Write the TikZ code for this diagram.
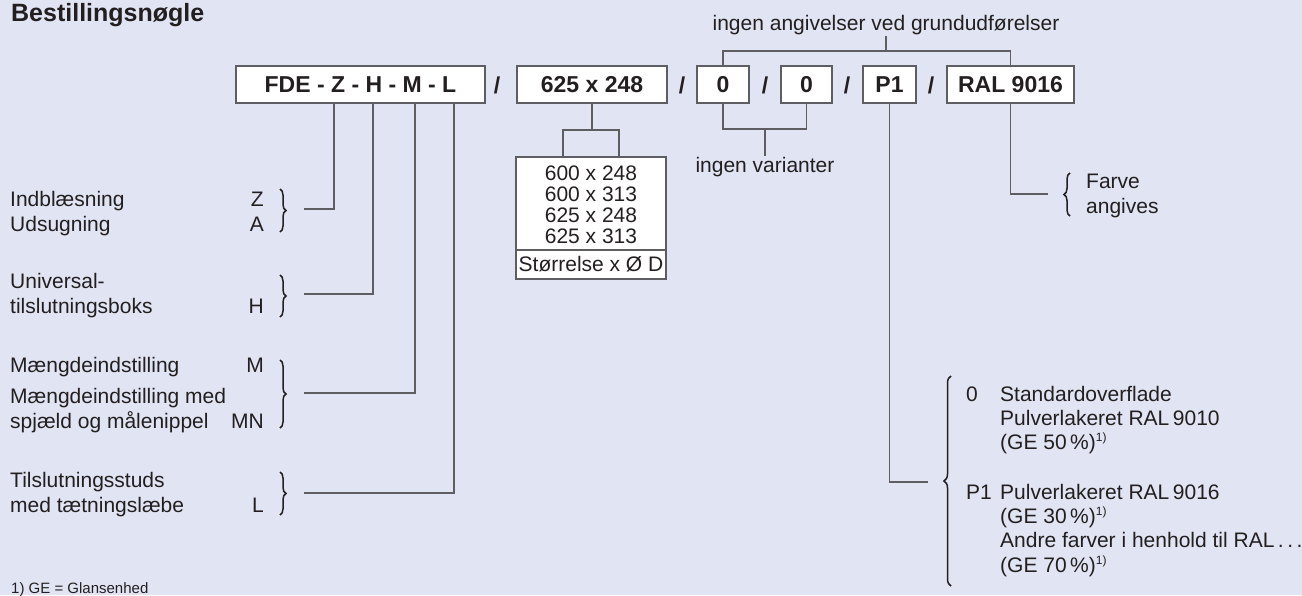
\documentclass[tikz,border=0pt]{standalone}
\usepackage{fontspec}
\setmainfont{Liberation Sans}
\usetikzlibrary{decorations.pathreplacing}
\definecolor{bg}{HTML}{E1E4F2}
\definecolor{txt}{HTML}{231F20}
\definecolor{ln}{HTML}{5E5E62}
\newcommand\fnm{\raisebox{0.36em}{\fontsize{12}{12}\selectfont 1)}}
\begin{document}
\begin{tikzpicture}[x=1pt,y=-1pt,
  every node/.style={text=txt, inner sep=1pt},
  reg/.style={font=\fontsize{21}{25}\selectfont},
  lft/.style={reg, anchor=base west},
  rgt/.style={reg, anchor=base east},
  boxed/.style={draw=ln, line width=1.1pt, fill=white, minimum height=37pt, inner sep=0pt, font=\fontsize{23}{23}\selectfont\bfseries},
  plainbox/.style={draw=ln, line width=1.1pt, fill=white, minimum width=150pt, inner sep=0pt},
  slash/.style={font=\fontsize{23}{23}\selectfont\bfseries, anchor=base},
  conn/.style={draw=ln, line width=1.2pt},
  brc/.style={draw=txt, line width=1.5pt, decorate, decoration={brace, amplitude=6pt}},
  ]
\fill[bg] (0,0) rectangle (1302,595);
\useasboundingbox (0,0) rectangle (1302,595);

% title
\node[anchor=base west, font=\fontsize{25}{25}\selectfont\bfseries] (title) at (10,21) {Bestillingsnøgle};

% code boxes
\node[boxed, minimum width=249pt] (fde) at (360.5,84.5) {FDE - Z - H - M - L};
\node[slash] (sl1) at (497,93) {/};
\node[boxed, minimum width=150pt] (size) at (592,84.5) {625 x 248};
\node[slash] (sl2) at (682,93) {/};
\node[boxed, minimum width=52pt] (zeroa) at (723,84.5) {0};
\node[slash] (sl3) at (765,93) {/};
\node[boxed, minimum width=51pt] (zerob) at (806.5,84.5) {0};
\node[slash] (sl4) at (847,93) {/};
\node[boxed, minimum width=53pt] (p1) at (889.5,84.5) {P1};
\node[slash] (sl5) at (931,93) {/};
\node[boxed, minimum width=127pt] (ral) at (1010.5,84.5) {RAL 9016};

% top note
\node[reg, anchor=base] (topnote) at (886,30) {ingen angivelser ved grundudførelser};
\coordinate (topjoin) at (886,51);
\draw[conn] (topnote.south) -- (topjoin);
\draw[conn] (zeroa.north) |- (topjoin) -| (ral.north);

% zero bracket
\coordinate (zzjoin) at (765,129);
\draw[conn] (zeroa.south) |- (zzjoin) -| (zerob.south);
\node[reg, anchor=base] (varianter) at (765,172) {ingen varianter};
\draw[conn] (zzjoin) -- (varianter.north);

% sizes
\node[plainbox, minimum height=93pt] (sizes) at (591,203.5) {};
\node[plainbox, minimum height=29pt, reg] (sizelbl) at (591,264.5) {Størrelse x Ø D};
\foreach \t [count=\i] in {600 x 248, 600 x 313, 625 x 248, 625 x 313}
  \node[reg, anchor=base] (s\i) at (591,159+21*\i) {\t};
\coordinate (sjoin) at (592,130);
\coordinate (sl) at (563,0);
\coordinate (sr) at (619,0);
\draw[conn] (size.south) -- (sjoin);
\draw[conn] (sl |- sizes.north) |- (sjoin) -| (sr |- sizes.north);

% left labels
\node[lft] (indb) at (9,206) {Indblæsning};
\node[lft] (udsu) at (9,231) {Udsugning};
\node[rgt] (cz) at (265,206) {Z};
\node[rgt] (ca) at (265,231) {A};
\draw[brc] (280,189) -- (280,232);

\node[lft] (univ) at (9,288) {Universal-};
\node[lft] (tilsl) at (9,313) {tilslutningsboks};
\node[rgt] (ch) at (265,313) {H};
\draw[brc] (280,275) -- (280,317);

\node[lft] (mae1) at (9,372) {Mængdeindstilling};
\node[rgt] (cm) at (265,372) {M};
\node[lft] (mae2) at (9,403) {Mængdeindstilling med};
\node[lft] (spj) at (9,428) {spjæld og målenippel};
\node[rgt] (cmn) at (265,428) {MN};
\draw[brc] (280,360) -- (280,428);

\node[lft] (tils) at (9,487) {Tilslutningsstuds};
\node[lft] (taet) at (9,512) {med tætningslæbe};
\node[rgt] (cl) at (265,512) {L};
\draw[brc] (280,472) -- (280,515);

% FDE connectors
\coordinate (xz) at (334,0);
\coordinate (xh) at (373,0);
\coordinate (xm) at (415,0);
\coordinate (xl) at (454,0);
\coordinate (zend) at (304,209);
\coordinate (hend) at (304,294);
\coordinate (mend) at (304,393);
\coordinate (lend) at (304,493);
\draw[conn] (xz |- fde.south) |- (zend);
\draw[conn] (xh |- fde.south) |- (hend);
\draw[conn] (xm |- fde.south) |- (mend);
\draw[conn] (xl |- fde.south) |- (lend);

% footnote
\node[anchor=base west, font=\fontsize{15}{15}\selectfont] (fn) at (10,593) {1) GE = Glansenhed};

% colour
\node[lft] (farve) at (1085,188) {Farve};
\node[lft] (angiv) at (1085,213) {angives};
\draw[brc] (1070,216) -- (1070,173);
\coordinate (farvetip) at (1048,194);
\draw[conn] (ral.south) |- (farvetip);

% surface
\node[lft] (o0) at (965,401) {0};
\node[lft] (o0a) at (999,401) {Standardoverflade};
\node[lft] (o0b) at (999,425) {Pulverlakeret RAL\,9010};
\node[lft] (o0c) at (999,449) {(GE 50\,\%)\fnm};
\node[lft] (op1) at (965,499) {P1};
\node[lft] (op1a) at (999,499) {Pulverlakeret RAL\,9016};
\node[lft] (op1b) at (999,523) {(GE 30\,\%)\fnm};
\node[lft] (op1c) at (999,547) {Andre farver i henhold til RAL\,.\,.\,.};
\node[lft] (op1d) at (999,572) {(GE 70\,\%)\fnm};
\draw[brc, decoration={brace, amplitude=7pt}] (951,586) -- (951,376);
\coordinate (p1tip) at (928,482);
\draw[conn] (p1.south) |- (p1tip);
\end{tikzpicture}
\end{document}
